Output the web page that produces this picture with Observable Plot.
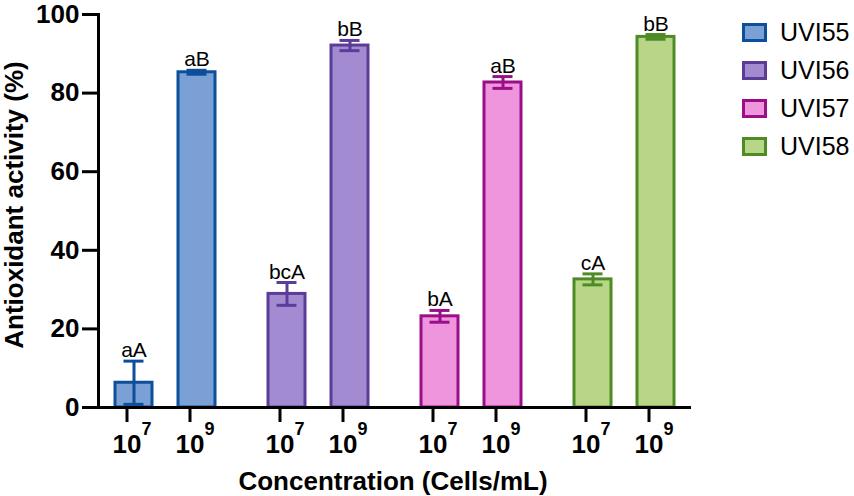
<!DOCTYPE html>
<html><head><meta charset="utf-8">
<script src="https://cdn.jsdelivr.net/npm/d3@7"></script>
<script src="https://cdn.jsdelivr.net/npm/@observablehq/plot@0.6"></script>
<style>
body{margin:0;background:#fff;font-family:"Liberation Sans",Arial,sans-serif;}
#wrap{position:relative;width:854px;height:496px;overflow:hidden;}
#legend{position:absolute;left:742px;top:13.5px;}
.item{display:flex;align-items:center;height:38px;}
.sw{width:19px;height:13px;border:3px solid;margin-right:13px;}
.lab{font-size:25px;color:#000;line-height:1;}
#xtitle{position:absolute;left:0;width:786px;top:468px;text-align:center;font-weight:bold;font-size:26px;line-height:1;}
#ytitle{position:absolute;left:-186px;top:190px;width:400px;height:30px;line-height:30px;text-align:center;font-weight:bold;font-size:26px;transform:rotate(-90deg);transform-origin:center;}
</style></head><body>
<div id="wrap"><div id="chart"></div><div id="legend"></div>
<div id="ytitle">Antioxidant activity (%)</div>
<div id="xtitle">Concentration (Cells/mL)</div></div>
<script>
const strains = ["UVI55", "UVI56", "UVI57", "UVI58"];
const concentrations = ["10^7", "10^9"];
const tickBase = "10";
const exponents = ["7", "9"];
const means = [[6.3, 85.3], [28.9, 92.1], [23.2, 82.7], [32.6, 94.3]];
const sds = [[5.5, 0.5], [2.9, 1.3], [1.5, 1.5], [1.4, 0.6]];
const letters = [["aA", "aB"], ["bcA", "bB"], ["bA", "aB"], ["cA", "bB"]];
const fills = ["#7aa0d6", "#a38bd1", "#ef95dd", "#b9d688"];
const strokes = ["#0d4f9a", "#5b3c97", "#9a0e88", "#4f8b25"];
const yTicks = [0, 20, 40, 60, 80, 100];

const data = strains.flatMap((s, i) => concentrations.map((c, j) => ({
  strain: s, conc: c, exp: exponents[j], mean: means[i][j], sd: sds[i][j], letter: letters[i][j],
  fill: fills[i], stroke: strokes[i]
})));
const base = strains.map(s => ({strain: s, y: 0}));

const chart = Plot.plot({
  width: 854, height: 496,
  marginLeft: 96, marginRight: 161, marginTop: 14, marginBottom: 89,
  style: {fontFamily: "Liberation Sans, Arial, sans-serif", background: "white", color: "black", overflow: "visible"},
  fx: {domain: strains, paddingInner: 0.123, paddingOuter: 0, axis: null},
  x: {domain: concentrations, paddingInner: 0.414, paddingOuter: 0.269, axis: null},
  y: {domain: [0, 100], axis: null},
  marks: [
    Plot.barY(data, {fx: "strain", x: "conc", y: "mean", fill: "fill", stroke: "stroke", strokeWidth: 3}),
    Plot.ruleX(data, {fx: "strain", x: "conc", y1: d => d.mean - d.sd, y2: d => d.mean + d.sd, stroke: "stroke", strokeWidth: 3}),
    Plot.tickY(data, {fx: "strain", x: "conc", y: d => d.mean + d.sd, stroke: "stroke", strokeWidth: 3, insetLeft: 8.5, insetRight: 8.5}),
    Plot.tickY(data, {fx: "strain", x: "conc", y: d => d.mean - d.sd, stroke: "stroke", strokeWidth: 3, insetLeft: 8.5, insetRight: 8.5}),
    Plot.text(data, {fx: "strain", x: "conc", y: d => d.mean + d.sd, text: "letter", dy: -4, lineAnchor: "bottom", fontSize: 21, fill: "black"}),
    Plot.axisX({tickSize: 15, tickPadding: 12, fontSize: 26, fontWeight: "bold", strokeWidth: 3, label: null,
      tickFormat: () => tickBase, dx: -7}),
    Plot.text(data, {fx: "strain", x: "conc", text: "exp", frameAnchor: "bottom", dy: 22, dx: 12.5, lineAnchor: "middle",
      fontSize: 18, fontWeight: "bold", fill: "black"}),
    Plot.axisY({ticks: yTicks, tickSize: 16, tickPadding: 3, fontSize: 26, fontWeight: "bold", strokeWidth: 3, label: null}),
    Plot.frame({anchor: "left", strokeWidth: 3, facetAnchor: "left"}),
    Plot.ruleY(base.slice(0, 3), {fx: "strain", y: "y", strokeWidth: 3, insetRight: -10}),
    Plot.ruleY(base.slice(1), {fx: "strain", y: "y", strokeWidth: 3, insetLeft: -10}),
    Plot.ruleY(base, {fx: "strain", y: "y", strokeWidth: 3})
  ]
});
document.getElementById("chart").appendChild(chart);

const legend = document.getElementById("legend");
strains.forEach((s, i) => {
  const it = document.createElement("div");
  it.className = "item";
  it.innerHTML = `<div class="sw" style="background:${fills[i]};border-color:${strokes[i]}"></div><span class="lab">${s}</span>`;
  legend.appendChild(it);
});
</script>
</body></html>
